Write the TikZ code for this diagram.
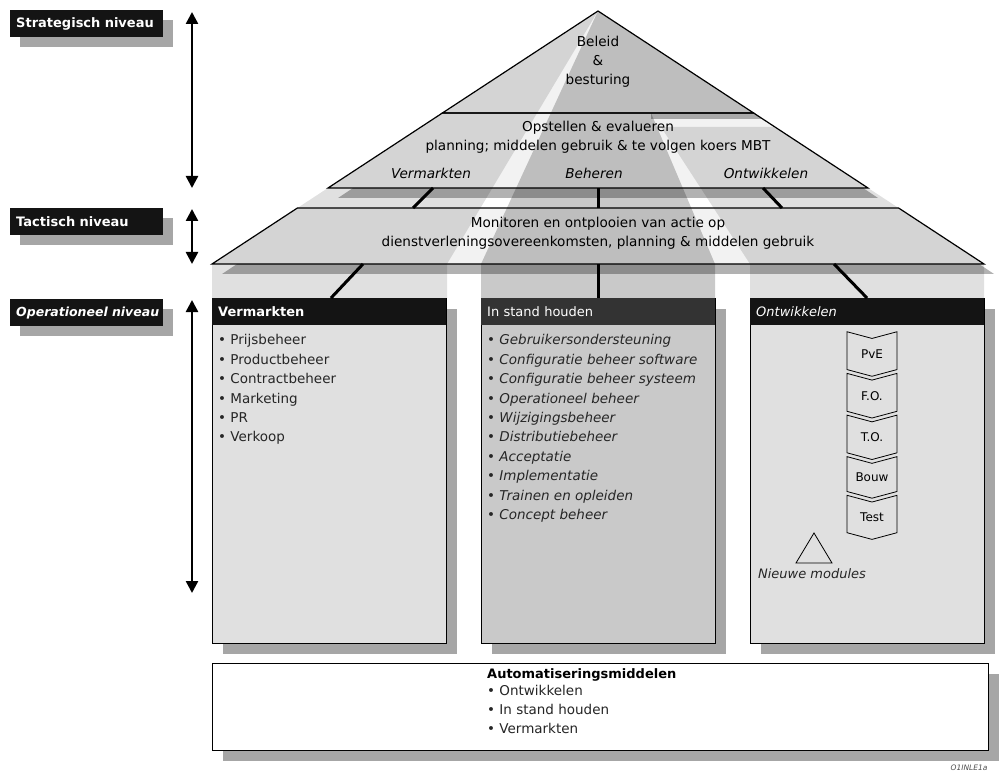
\documentclass[tikz,border=0pt]{standalone}
\usepackage{fontspec}
\setmainfont{DejaVu Sans}
\usetikzlibrary{positioning,arrows.meta,shapes.symbols,shadows}

\begin{document}
\begin{tikzpicture}[x=1pt,y=-1pt,
  lvl/.style={fill=black!92,text=white,font=\fontsize{13}{15}\selectfont\bfseries,anchor=north west,
    text width=141pt,inner xsep=6pt,inner ysep=0pt,minimum height=27pt,
    drop shadow={shadow xshift=10pt,shadow yshift=-10pt,fill=black!35,opacity=1}},
  dbl/.style={line width=2.5pt,>={Triangle[length=12pt,width=12pt]},<->},
  layer/.style={draw=black,line width=1.2pt,fill=black,fill opacity=0.05},
  drop/.style={fill=black,opacity=0.3},
  beam/.style={fill=black!12},
  mainbeam/.style={fill=black!21},
  link/.style={line width=3pt},
  ptext/.style={font=\fontsize{13.6}{19}\selectfont,align=center,inner sep=0pt},
  sub/.style={font=\fontsize{13.6}{19}\selectfont\itshape,inner sep=0pt},
  col/.style={draw=black,line width=1.2pt,anchor=north west,minimum width=234pt,minimum height=345pt,inner sep=0pt,
    drop shadow={shadow xshift=10pt,shadow yshift=-10pt,fill=black!35,opacity=1}},
  head/.style={fill=black!92,text=white,anchor=north west,text width=222pt,inner xsep=6pt,inner ysep=0pt,
    minimum height=27pt,font=\fontsize{13}{15}\selectfont\bfseries},
  items/.style={font=\fontsize{13.5}{19.4}\selectfont,align=left,inner sep=0pt,text=black!85},
  stage/.style={signal,signal from=north,signal to=south,draw,line width=0.8pt,fill=black!12,
    minimum width=50pt,minimum height=37pt,signal pointer angle=150,inner sep=0pt,
    font=\fontsize{12}{14}\selectfont}
]
  \useasboundingbox (0,0) rectangle (1000,775);

  % Light beams from the top
  \fill[beam] (598,11) -- (212,264) -- (212,298) -- (447,298) -- (447,264) -- cycle;
  \fill[mainbeam] (598,11) -- (481,264) -- (481,298) -- (715,298) -- (715,264) -- (651,113) -- (753.6,113) -- cycle;
  \fill[beam] (661,127) -- (775,127) -- (984,264) -- (984,298) -- (750,298) -- (750,264) -- cycle;

  % Shadows of the layers
  \fill[drop] (651,113) -- (753.6,113) -- (763,119) -- (651,119) -- cycle;
  \fill[drop] (353,188) -- (863,188) -- (878,198) -- (338,198) -- cycle;
  \fill[drop] (237,264) -- (979,264) -- (994,274) -- (222,274) -- cycle;

  % Layers of the pyramid
  \draw[layer] (598,11) -- (753.6,113) -- (442.4,113) -- cycle;
  \draw[layer] (442.4,113) -- (753.6,113) -- (868,188) -- (328,188) -- cycle;
  \draw[layer] (297.4,208) -- (898.6,208) -- (984,264) -- (212,264) -- cycle;

  % Texts in the pyramid
  \node[ptext] (beleid) at (598,62) {Beleid\\\&\\besturing};
  \node[ptext] (opstellen) at (598,137) {Opstellen \& evalueren\\planning; middelen gebruik \& te volgen koers MBT};
  \node[sub] (pVerm) at (431,173) {Vermarkten};
  \node[sub] (pBeh) at (594,173) {Beheren};
  \node[sub] (pOntw) at (766,173) {Ontwikkelen};
  \node[ptext] (monitoren) at (598,233) {Monitoren en ontplooien van actie op\\dienstverleningsovereenkomsten, planning \& middelen gebruik};

  % Level labels and their arrows
  \node[lvl] (strat) at (10,10) {Strategisch niveau};
  \node[lvl] (tact) at (10,208) {Tactisch niveau};
  \node[lvl,font=\fontsize{12.5}{15}\selectfont\bfseries\itshape] (oper) at (10,299) {\mbox{Operationeel niveau}};
  \coordinate (stratTop) at (192,12);
  \coordinate (stratBot) at (192,188);
  \coordinate (tactTop) at (192,209);
  \coordinate (tactBot) at (192,264);
  \coordinate (operTop) at (192,300);
  \coordinate (operBot) at (192,593);
  \draw[dbl] (stratTop) -- (stratBot);
  \draw[dbl] (tactTop) -- (tactBot);
  \draw[dbl] (operTop) -- (operBot);

  % Columns
  \node[col,fill=black!12] (verm) at (212,298) {};
  \node[col,fill=black!21] (stand) at (481,298) {};
  \node[col,fill=black!12] (ontw) at (750,298) {};
  \node[head] (vermHead) at (verm.north west) {Vermarkten};
  \node[head,fill=black!80,font=\fontsize{13}{15}\selectfont] (standHead) at (stand.north west) {In stand houden};
  \node[head,font=\fontsize{13}{15}\selectfont\itshape] (ontwHead) at (ontw.north west) {Ontwikkelen};

  \node[items,below right=9pt and 6pt of vermHead.south west] (vermList)
    {• Prijsbeheer\\• Productbeheer\\• Contractbeheer\\• Marketing\\• PR\\• Verkoop};
  \node[items,below right=9pt and 6pt of standHead.south west,font=\fontsize{13.5}{19.4}\selectfont\itshape] (standList)
    {• Gebruikersondersteuning\\• Configuratie beheer software\\• Configuratie beheer systeem\\• Operationeel beheer\\
     • Wijzigingsbeheer\\• Distributiebeheer\\• Acceptatie\\• Implementatie\\• Trainen en opleiden\\• Concept beheer};

  % Stages of development
  \node[stage] (pve) at (872,354) {PvE};
  \node[stage,below=3pt of pve] (fo) {F.O.};
  \node[stage,below=3pt of fo] (to) {T.O.};
  \node[stage,below=3pt of to] (bouw) {Bouw};
  \node[stage,below=3pt of bouw] (test) {Test};
  \draw[line width=0.8pt] (814,533) -- (832,563) -- (796,563) -- cycle;
  \node[sub,font=\fontsize{13}{15}\selectfont\itshape,text=black!85] (nieuw) at (812,574) {Nieuwe modules};

  % Connect the layers
  \coordinate (c1) at (433,188);  \coordinate (c2) at (413,208);
  \coordinate (c3) at (598,188);  \coordinate (c4) at (598,208);
  \coordinate (c5) at (763,188);  \coordinate (c6) at (782,208);
  \draw[link] (c1) -- (c2);
  \draw[link] (c3) -- (c4);
  \draw[link] (c5) -- (c6);
  \coordinate (d1) at (363,264);
  \coordinate (d3) at (598,264);
  \coordinate (d5) at (834,264);
  \draw[link] (d1) -- (vermHead.north -| 331,0);
  \draw[link] (d3) -- (standHead.north -| 598,0);
  \draw[link] (d5) -- (ontwHead.north -| 867,0);

  % Automation means
  \node[col,fill=white,minimum width=776pt,minimum height=87pt] (auto) at (212,663) {};
  \node[anchor=west,inner sep=0pt,font=\fontsize{13}{15}\selectfont\bfseries] (autoTitle) at (487,675) {Automatiseringsmiddelen};
  \node[items,below right=3pt and 0pt of autoTitle.south west] (autoList)
    {• Ontwikkelen\\• In stand houden\\• Vermarkten};

  \node[font=\fontsize{7.5}{9}\selectfont\itshape,text=black!70] (code) at (969,768) {O1INLE1a};
\end{tikzpicture}
\end{document}
